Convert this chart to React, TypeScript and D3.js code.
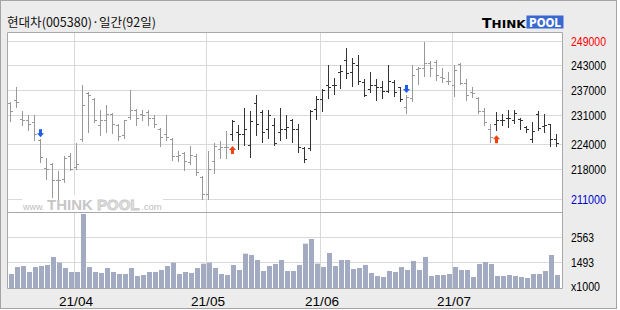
import React from "react";
import * as d3 from "d3";

const dates: string[] = [
  "2021-03-17","2021-03-18","2021-03-19","2021-03-22","2021-03-23","2021-03-24","2021-03-25","2021-03-26","2021-03-29","2021-03-30","2021-03-31",
  "2021-04-01","2021-04-02","2021-04-05","2021-04-06","2021-04-07","2021-04-08","2021-04-09","2021-04-12","2021-04-13","2021-04-14","2021-04-15","2021-04-16","2021-04-19","2021-04-20","2021-04-21","2021-04-22","2021-04-23","2021-04-26","2021-04-27","2021-04-28","2021-04-29","2021-04-30",
  "2021-05-03","2021-05-04","2021-05-06","2021-05-07","2021-05-10","2021-05-11","2021-05-12","2021-05-13","2021-05-14","2021-05-17","2021-05-18","2021-05-20","2021-05-21","2021-05-24","2021-05-25","2021-05-26","2021-05-27","2021-05-28","2021-05-31",
  "2021-06-01","2021-06-02","2021-06-03","2021-06-04","2021-06-07","2021-06-08","2021-06-09","2021-06-10","2021-06-11","2021-06-14","2021-06-15","2021-06-16","2021-06-17","2021-06-18","2021-06-21","2021-06-22","2021-06-23","2021-06-24","2021-06-25","2021-06-28","2021-06-29","2021-06-30",
  "2021-07-01","2021-07-02","2021-07-05","2021-07-06","2021-07-07","2021-07-08","2021-07-09","2021-07-12","2021-07-13","2021-07-14","2021-07-15","2021-07-16","2021-07-19","2021-07-20","2021-07-21","2021-07-22","2021-07-23","2021-07-26"
];

const opens: number[] = [
  234000,234600,230200,230000,229400,225000,218400,219400,215400,215600,221300,
  218600,225400,236400,235000,228600,230000,231400,228600,226200,230600,232400,231400,231800,230400,227800,226400,225400,221300,222000,219800,221300,216200,
  212100,220100,223000,223400,226600,227000,226600,223900,234000,231900,227600,228600,227100,227800,230000,227600,223200,223200,232600,
  235000,238200,238400,241500,244400,241500,243000,239000,237400,238400,237900,236900,239000,237800,233000,235200,242200,242400,243600,243900,240200,239200,
  238400,243300,238800,236600,235100,232000,227600,229000,230000,230400,230000,230200,228200,225400,231400,228400,228900,225400
];
const highs: number[] = [
  234200,237900,232000,231000,231000,225400,220800,219600,217600,221200,222000,
  224400,238400,236600,235200,232400,233400,231600,229000,230000,237000,232600,232400,232200,231000,227900,231000,225600,222400,222100,223600,221600,216400,
  222500,224400,224900,227200,230000,228600,232800,232000,236000,232400,232400,230400,232800,231000,230200,228800,223400,232400,235600,
  237400,243000,240000,243000,247200,244800,245400,239800,241500,239800,239200,243000,239400,237900,236000,243000,242700,248700,244000,244400,242400,241400,
  243000,243500,239800,237900,235500,232800,229000,231800,231400,232400,232400,230400,228400,229400,232000,231400,229000,226600
];
const lows: number[] = [
  229800,233200,229000,227600,225400,220000,216000,211600,211200,215200,218000,
  218400,225000,227200,229600,226600,227200,227000,225400,225800,230400,229000,230200,229000,228400,223800,225400,220500,220200,218000,219600,217000,211200,
  211200,217300,221000,221000,225200,223200,224000,221300,226600,224800,225800,224000,225400,225800,224800,222400,220000,222900,230400,
  232200,235400,236400,237800,240200,238400,238800,235800,236800,235000,235500,236800,236000,234800,231800,234800,238700,240600,240600,239800,239200,238700,
  235900,238800,235000,235600,231800,229000,224800,227800,229000,228400,229400,227900,227200,224800,227600,227200,223800,223800
];
const closes: number[] = [
  232000,234200,229800,229000,226600,221000,218000,215400,215400,220800,218100,
  219200,233400,235800,230000,230000,231400,228800,226000,229800,232400,230400,231200,230400,229000,225800,225800,221200,221500,220000,221500,217300,212100,
  218000,223600,223400,223400,229600,226600,227600,229600,229000,227100,231000,224400,227600,228100,227600,223400,220600,232000,235000,
  237000,237900,238400,241600,241300,243600,239200,235900,238400,237900,236800,239200,236700,235000,235400,240800,242400,243500,242400,240800,240000,239200,
  241900,238800,236000,236300,232000,229400,225800,230000,230000,230400,231600,230000,227600,227200,228000,228600,225400,224400
];
// volume in thousand shares
const volumes: number[] = [
  984,1289,1332,1071,1289,1332,1376,1724,1477,1245,1071,
  1071,3594,1289,1071,1028,1245,1071,984,984,1245,897,940,1071,1071,1158,1332,1477,984,1071,1028,1245,1434,
  1477,1245,984,940,1376,1158,1869,1811,1593,1115,1332,1419,1593,1115,1115,1376,2304,2507,1434,
  1289,1898,1332,1593,1593,1202,1245,1376,1028,897,854,1115,1071,1289,1158,1550,1158,1724,897,940,940,984,
  1289,1158,1158,854,1419,1506,1419,897,897,940,897,854,810,984,984,1115,1811,940
];

const priceTicks: number[] = [249000, 243000, 237000, 231000, 224000, 218000, 211000];
const volumeTicks: number[] = [2563, 1493];
const monthStarts: string[] = ["2021-04-01", "2021-05-03", "2021-06-01", "2021-07-01"];
const monthLabels: string[] = ["21/04", "21/05", "21/06", "21/07"];
const signalDates: string[] = ["2021-03-24", "2021-05-10", "2021-06-21", "2021-07-12"];
const signalTypes: string[] = ["sell", "buy", "sell", "buy"];

const titleText = "현대차(005380)·일간(92일)";

export default function App() {
  const x = d3.scaleBand<string>().domain(dates).range([7.5, 559.5]).padding(0);
  const y = d3.scaleLinear().domain([211000, 249000]).range([199, 41]);
  const yv = d3.scaleLinear().domain([1493, 2563]).range([262.3, 237.7]);
  const cy = (v: number) => Math.floor(v) + 0.5;

  const plotL = 7.5, plotR = 562.5, plotT = 32.5, divY = 212.5, plotB = 288.5;

  // trend colours from signals
  let dark = false;
  const colors = dates.map((d) => {
    const si = signalDates.indexOf(d);
    if (si >= 0) dark = signalTypes[si] === "buy";
    return dark ? "#333333" : "#999999";
  });

  const font = "'Liberation Sans', Arial, sans-serif";
  const heavy = "'DejaVu Sans', sans-serif";

  return (
    <svg width={620} height={310} style={{ position: "absolute", left: 0, top: 0 }} xmlns="http://www.w3.org/2000/svg">
      <rect x={0} y={0} width={620} height={310} fill="#ffffff" />
      <rect x={0.5} y={0.5} width={616} height={308} fill="#ececec" stroke="#a4a4a4" />

      <text x={7} y={27} fontFamily="'Noto Sans CJK KR', sans-serif" fontSize={12.5} fill="#111" textLength={149} lengthAdjust="spacingAndGlyphs">{titleText}</text>

      {/* logo */}
      <g>
        <rect x={526.5} y={15.5} width={37} height={13} fill="#3a68d2" />
        <text y={27.5} fontFamily={heavy} fontWeight={900} fill="#000">
          <tspan x={482} fontSize={14}>T</tspan>
          <tspan fontSize={11} textLength={34} lengthAdjust="spacingAndGlyphs">HINK</tspan>
          <tspan x={529} y={27} fontSize={12} fontWeight={700} fill="#fff" textLength={32} lengthAdjust="spacingAndGlyphs">POOL</tspan>
        </text>
      </g>

      {/* plot background */}
      <rect x={plotL} y={plotT} width={plotR - plotL} height={plotB - plotT} fill="#ffffff" />

      {/* price gridlines */}
      {priceTicks.map((t) => (
        <line key={"pg" + t} x1={plotL} x2={plotR} y1={cy(y(t))} y2={cy(y(t))} stroke="#d9d9d9" />
      ))}
      {/* volume gridlines */}
      {volumeTicks.map((t) => (
        <line key={"vg" + t} x1={plotL} x2={plotR} y1={cy(yv(t))} y2={cy(yv(t))} stroke="#d9d9d9" />
      ))}
      {/* month gridlines */}
      {monthStarts.map((d) => (
        <line key={"mg" + d} x1={(x(d) as number) + 1} x2={(x(d) as number) + 1} y1={plotT} y2={plotB} stroke="#d9d9d9" />
      ))}

      {/* watermark: one text element */}
      <g>
        <rect x={22} y={195} width={141} height={17} fill="#ffffff" />
        <text y={210} fill="#bdbdbd">
          <tspan x={23} fontFamily={font} fontSize={9}>www.</tspan>
          <tspan x={47} fontFamily={font} fontWeight={700} fontSize={15} fill="#c6c6c6">THINK</tspan>
          <tspan x={97} fontFamily={font} fontWeight={700} fontSize={15} fill="#e2e2e2" stroke="#c8c8c8" strokeWidth={0.8}>POOL</tspan>
          <tspan x={141} fontFamily={font} fontSize={9.5}>.com</tspan>
        </text>
      </g>

      {/* volume bars */}
      {dates.map((d, i) => {
        const top = yv(volumes[i]);
        return <rect key={"v" + d} x={(x(d) as number) + 1.5} y={top} width={5} height={288 - top} fill="#a3abc3" />;
      })}

      {/* OHLC bars */}
      {dates.map((d, i) => {
        const cx = (x(d) as number) + 3;
        const c = colors[i];
        const yo = cy(y(opens[i]));
        const yc = cy(y(closes[i]));
        return (
          <g key={"b" + d} stroke={c} strokeWidth={1}>
            <line x1={cx} x2={cx} y1={Math.floor(y(highs[i]))} y2={Math.ceil(y(lows[i])) + 1} />
            <line x1={cx - 2.5} x2={cx} y1={yo} y2={yo} />
            <line x1={cx} x2={cx + 2.5} y1={yc} y2={yc} />
          </g>
        );
      })}

      {/* signal arrows */}
      {signalDates.map((d, k) => {
        const i = dates.indexOf(d);
        const cx = (x(d) as number) + 3;
        if (signalTypes[k] === "sell") {
          const tip = y(highs[i]) - 2;
          const pts = [
            [cx - 1.5, tip - 8], [cx + 1.5, tip - 8], [cx + 1.5, tip - 4], [cx + 3.5, tip - 4],
            [cx, tip], [cx - 3.5, tip - 4], [cx - 1.5, tip - 4]
          ];
          return <polygon key={"s" + d} points={pts.map((p) => p.join(",")).join(" ")} fill="#1c5fe8" />;
        }
        const tip = y(lows[i]) + 6;
        const pts = [
          [cx - 1.5, tip + 8], [cx + 1.5, tip + 8], [cx + 1.5, tip + 4], [cx + 3.5, tip + 4],
          [cx, tip], [cx - 3.5, tip + 4], [cx - 1.5, tip + 4]
        ];
        return <polygon key={"s" + d} points={pts.map((p) => p.join(",")).join(" ")} fill="#f2420f" />;
      })}

      {/* plot borders */}
      <line x1={plotL} x2={plotR} y1={plotT} y2={plotT} stroke="#a8a8a8" />
      <line x1={plotL} x2={plotR} y1={divY} y2={divY} stroke="#a8a8a8" />
      <line x1={plotL} x2={plotR} y1={plotB} y2={plotB} stroke="#a8a8a8" />
      <line x1={plotL} x2={plotL} y1={plotT} y2={plotB} stroke="#a8a8a8" />
      <line x1={plotR} x2={plotR} y1={plotT} y2={plotB} stroke="#a8a8a8" />

      {/* price labels */}
      {priceTicks.map((t, k) => (
        <text key={"pl" + t} x={571} y={y(t) + 4.5} fontFamily={font} fontSize={12.5}
          fill={k === 0 ? "#ff0000" : k === priceTicks.length - 1 ? "#0000cc" : "#000000"}
          textLength={35} lengthAdjust="spacingAndGlyphs">{String(t)}</text>
      ))}
      {volumeTicks.map((t) => (
        <text key={"vl" + t} x={571} y={yv(t) + 4.5} fontFamily={font} fontSize={12.5} fill="#000" textLength={23} lengthAdjust="spacingAndGlyphs">{String(t)}</text>
      ))}
      <text x={571} y={291} fontFamily={font} fontSize={12.5} fill="#000" textLength={29} lengthAdjust="spacingAndGlyphs">x1000</text>

      {/* month labels */}
      {monthStarts.map((d, k) => (
        <text key={"ml" + d} x={(x(d) as number) + 2.5} y={306} textAnchor="middle" fontFamily={font} fontSize={13} fill="#000" textLength={34} lengthAdjust="spacingAndGlyphs">{monthLabels[k]}</text>
      ))}
    </svg>
  );
}
